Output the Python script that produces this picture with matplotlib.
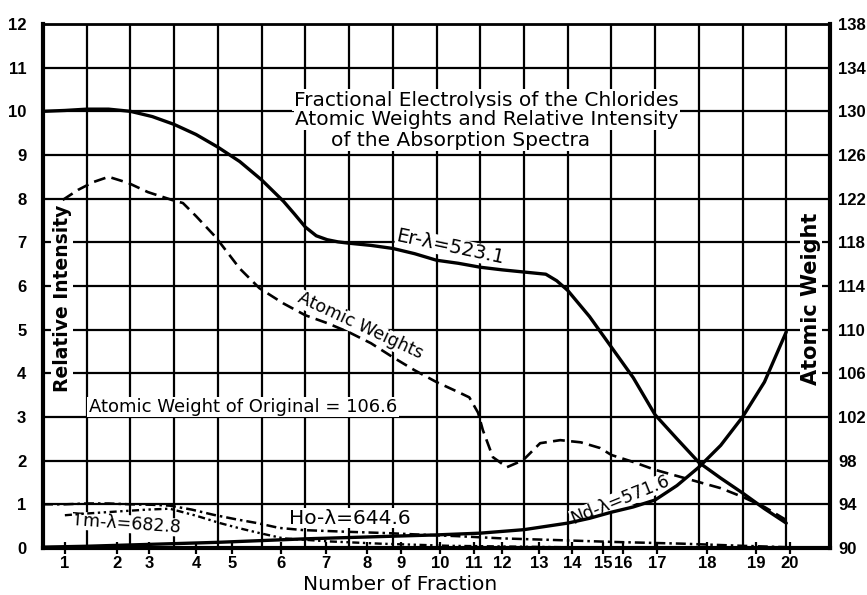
import matplotlib
matplotlib.use("Agg")
import matplotlib.pyplot as plt

# ---- data (x in chart-grid units 0..18, y in relative intensity 0..12) ----
fraction_labels = [str(i) for i in range(1, 21)]
fraction_pos = [0.50, 1.69, 2.42, 3.50, 4.32, 5.44, 6.47, 7.41, 8.19, 9.08,
                9.86, 10.50, 11.34, 12.10, 12.81, 13.27, 14.04, 15.19, 16.31, 17.08]

er_x = [0, 0.5, 1.0, 1.5, 2.0, 2.5, 3.0, 3.5, 4.0, 4.5, 5.0, 5.5, 5.75, 6.0, 6.25,
        6.5, 6.75, 7.0, 7.5, 8.0, 8.5, 9.0, 9.5, 10.0, 10.5, 11.0, 11.5, 11.75, 12.0,
        12.5, 13.0, 13.5, 14.0, 14.5, 15.0, 15.5, 16.0, 16.5, 17.0]
er_y = [10.0, 10.02, 10.05, 10.05, 10.0, 9.88, 9.7, 9.47, 9.18, 8.85, 8.43, 7.94,
        7.65, 7.35, 7.15, 7.06, 7.01, 6.98, 6.93, 6.86, 6.74, 6.59, 6.52, 6.43, 6.37,
        6.32, 6.27, 6.12, 5.9, 5.3, 4.6, 3.9, 3.05, 2.5, 1.96, 1.6, 1.26, 0.9, 0.57]

nd_x = [0, 1, 2, 3, 4, 5, 6, 7, 8, 9, 10, 11, 12, 12.5, 13, 13.5, 14, 14.5, 15,
        15.5, 16, 16.5, 17]
nd_y = [0.02, 0.04, 0.07, 0.1, 0.13, 0.17, 0.21, 0.24, 0.27, 0.3, 0.34, 0.42, 0.57,
        0.68, 0.82, 0.94, 1.1, 1.43, 1.85, 2.35, 3.0, 3.8, 4.95]

aw_x = [0.45, 0.8, 1.15, 1.5, 1.95, 2.4, 2.95, 3.2, 3.5, 3.95, 4.5, 4.95, 5.5, 6.0,
        6.5, 7.0, 7.5, 8.0, 8.5, 9.0, 9.5, 9.75, 9.95, 10.06, 10.29, 10.61, 10.98,
        11.37, 11.83, 12.3, 12.74, 13.0, 13.5, 14.0, 14.5, 15.0, 15.5, 16.0, 16.5, 17.0]
aw_y = [7.97, 8.2, 8.38, 8.5, 8.36, 8.15, 7.97, 7.9, 7.6, 7.12, 6.4, 5.95, 5.6, 5.33,
        5.15, 4.94, 4.69, 4.37, 4.07, 3.8, 3.57, 3.45, 3.1, 2.7, 2.08, 1.85, 2.01,
        2.4, 2.47, 2.42, 2.29, 2.13, 1.97, 1.79, 1.65, 1.51, 1.37, 1.17, 0.94, 0.64]

ho_x = [0, 0.5, 1.0, 1.5, 2.0, 2.5, 2.9, 3.4, 3.9, 4.4, 4.9, 5.4, 5.95, 7.0, 7.9,
        9.0, 9.5, 10.5, 11.8, 13.0, 14.6, 16.0, 17.0]
ho_y = [1.0, 1.0, 1.02, 1.02, 1.0, 0.99, 0.97, 0.88, 0.76, 0.66, 0.57, 0.46, 0.41,
        0.37, 0.34, 0.29, 0.27, 0.22, 0.18, 0.14, 0.1, 0.05, 0.02]

tm_x = [0.5, 1.0, 1.76, 2.4, 2.9, 3.5, 4.05, 4.5, 4.96, 5.5, 6.56, 7.7, 9.3, 11.8,
        14.0, 17.0]
tm_y = [0.75, 0.79, 0.84, 0.88, 0.9, 0.74, 0.57, 0.45, 0.34, 0.22, 0.15, 0.1, 0.05,
        0.02, 0.01, 0.0]

left_ticks = list(range(0, 13))
right_ticks = list(range(90, 139, 4))

# ---- figure ----
W, H = 867, 595
fig = plt.figure(figsize=(W / 100, H / 100), dpi=100)
ax = fig.add_axes([43 / W, 1 - 548 / H, (830 - 43) / W, (548 - 24) / H])
ax.set_xlim(0, 18)
ax.set_ylim(0, 12)

tick_font = dict(family="Liberation Sans", weight="bold", size=12)

ax.set_xticks(range(0, 19), minor=True)
ax.set_xticks(fraction_pos)
ax.set_xticklabels(fraction_labels, fontdict=tick_font)
ax.set_yticks(left_ticks)
ax.set_yticklabels([str(t) for t in left_ticks], fontdict=tick_font)
ax.grid(which="minor", axis="x", color="black", lw=1.6)
ax.grid(which="major", axis="y", color="black", lw=1.6)
ax.tick_params(axis="x", which="minor", length=0)
ax.tick_params(axis="x", which="major", direction="inout", length=9, width=1.6, pad=1)
ax.tick_params(axis="y", length=0, pad=12)

for side, lw in (("left", 3.0), ("bottom", 3.0), ("right", 3.0), ("top", 2.0)):
    ax.spines[side].set_linewidth(lw)
    ax.spines[side].set_color("black")

ax2 = ax.twinx()
ax2.set_ylim(90, 138)
ax2.set_yticks(right_ticks)
ax2.set_yticklabels([str(t) for t in right_ticks], fontdict=tick_font)
ax2.tick_params(axis="y", length=0, pad=6)
for s in ax2.spines.values():
    s.set_visible(False)

# ---- curves ----
ax.plot(er_x, er_y, color="black", lw=2.4, solid_capstyle="round",
        solid_joinstyle="round", zorder=3)
ax.plot(nd_x, nd_y, color="black", lw=2.4, solid_capstyle="round",
        solid_joinstyle="round", zorder=3)
ax.plot(aw_x, aw_y, color="black", lw=1.9, linestyle=(0, (4.5, 2.4)), zorder=3)
ax.plot(ho_x, ho_y, color="black", lw=1.8, linestyle=(0, (4, 1.6, 1, 1.6)), zorder=3)
ax.plot(tm_x, tm_y, color="black", lw=1.7, linestyle=(0, (3, 1.5, 1, 1.5, 1, 1.5)), zorder=3)

# ---- texts ----
bb = dict(facecolor="white", edgecolor="none", pad=1.0)
tf = dict(family="DejaVu Sans", color="black")

def px(x, y):
    return (x - 43) / 43.72, (548 - y) / 43.67

for (x, y), s in ((px(486, 100), "Fractional Electrolysis of the Chlorides"),
                  (px(487, 119), "Atomic Weights and Relative Intensity"),
                  (px(461, 140), "of the Absorption Spectra")):
    ax.text(x, y, s, ha="center", va="center", fontsize=14.5, bbox=bb, zorder=1.8, **tf)

ax.text(*px(62, 298), "Relative Intensity", rotation=90, ha="center", va="center",
        fontsize=13.5, weight="bold", bbox=bb, zorder=1.8, **tf)
ax.text(*px(811, 299), "Atomic Weight", rotation=90, ha="center", va="center",
        fontsize=15, weight="bold", bbox=bb, zorder=1.8, **tf)
ax.text(*px(243, 407), "Atomic Weight of Original = 106.6", ha="center", va="center",
        fontsize=13, bbox=bb, zorder=1.8, **tf)
ax.text(*px(450, 247), "Er-λ=523.1", rotation=-12, ha="center", va="center",
        fontsize=14, bbox=dict(facecolor="white", edgecolor="none", pad=0.2),
        zorder=1.8, **tf)
ax.text(*px(360, 326), "Atomic Weights", rotation=-25, ha="center", va="center",
        fontsize=12.5, bbox=dict(facecolor="white", edgecolor="none", pad=0.2),
        zorder=1.8, **tf)
ax.text(*px(350, 518), "Ho-λ=644.6", ha="center", va="center",
        fontsize=14.5, bbox=dict(facecolor="white", edgecolor="none", pad=0.2),
        zorder=1.8, **tf)
ax.text(*px(127, 524), "Tm-λ=682.8", rotation=-4, ha="center", va="center",
        fontsize=12.5, bbox=dict(facecolor="white", edgecolor="none", pad=0.0),
        zorder=1.8, **tf)
ax.text(*px(620, 500), "Nd-λ=571.6", rotation=22, ha="center", va="center",
        fontsize=12.5, bbox=dict(facecolor="white", edgecolor="none", pad=0.0),
        zorder=1.8, **tf)

fig.text(400 / W, 1 - 584 / H, "Number of Fraction", ha="center", va="center",
         fontsize=14.5, **tf)

fig.savefig("out.png", dpi=100, facecolor="white")
